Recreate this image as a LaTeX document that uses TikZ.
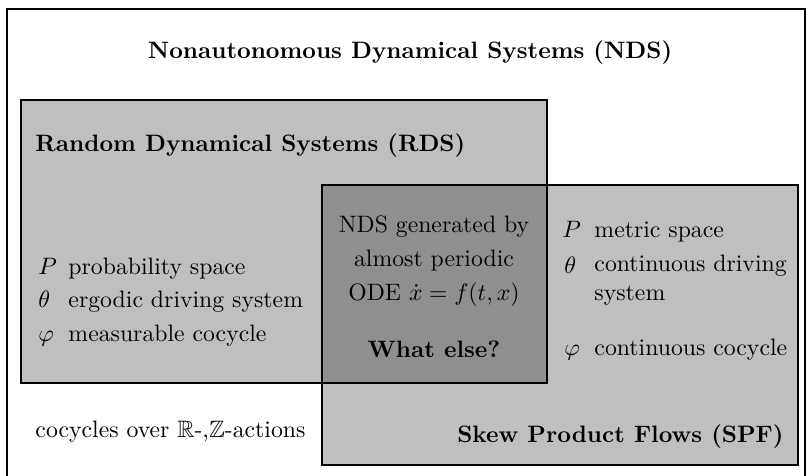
\documentclass[tikz,border=0pt]{standalone}
\usepackage{amsmath}
\usepackage{amssymb}
\usetikzlibrary{positioning}
\newcommand{\bbf}{\textbf}

\begin{document}
\begin{tikzpicture}[x=0.0148cm,y=-0.0148cm,node distance=0.2cm]
	\tikzstyle{region}=[draw=black,line width=0.6pt,fill=black,fill opacity=0.25]
	\tikzstyle{sym}=[anchor=base west,inner sep=0pt]
	\tikzstyle{txt}=[anchor=base west,inner sep=0pt]
	\tikzstyle{mid}=[anchor=base,inner sep=0pt]
	\useasboundingbox (0,0) rectangle (810,475);
		\draw[line width=0.6pt] (7,9) rectangle (805,485);
		\node (nds) at (410,53) {\bbf{Nonautonomous Dynamical Systems (NDS)}};
	% random dynamical systems
		\draw[region] (21,100) rectangle (547,383);
		\node[txt] (rds) at (35,151) {\bbf{Random Dynamical Systems (RDS)}};
		\node[sym] (p1) at (38,274) {$P$};
		\node[txt] (p1t) at (68,274) {probability space};
		\node[sym] (t1) at (38,307) {$\theta$};
		\node[txt] (t1t) at (68,307) {ergodic driving system};
		\node[sym] (f1) at (38,341) {$\varphi$};
		\node[txt] (f1t) at (68,341) {measurable cocycle};
	% skew product flows
		\draw[region] (322,185) rectangle (798,465);
		\node[sym] (p2) at (562,237) {$P$};
		\node[txt] (p2t) at (594,237) {metric space};
		\node[sym] (t2) at (564,273) {$\theta$};
		\node[txt] (t2t) at (594,271) {continuous driving};
		\node[txt] (t2s) at (594,300) {system};
		\node[sym] (f2) at (564,355) {$\varphi$};
		\node[txt] (f2t) at (594,355) {continuous cocycle};
		\node[anchor=base east,inner sep=0pt] (spf) at (784,442) {\bbf{Skew Product Flows (SPF)}};
	% intersection
		\node[mid] (gen) at (434,232) {NDS generated by};
		\node[mid] (aper) at (434,266) {almost periodic};
		\node[mid] (ode) at (434,300) {ODE $\dot{x}=f(t,x)$};
		\node[mid] (else) at (434,357) {\bbf{What else?}};
		\node[txt] (act) at (35,437) {cocycles over $\mathbb{R}$-,$\mathbb{Z}$-actions};
\end{tikzpicture}
\end{document}
